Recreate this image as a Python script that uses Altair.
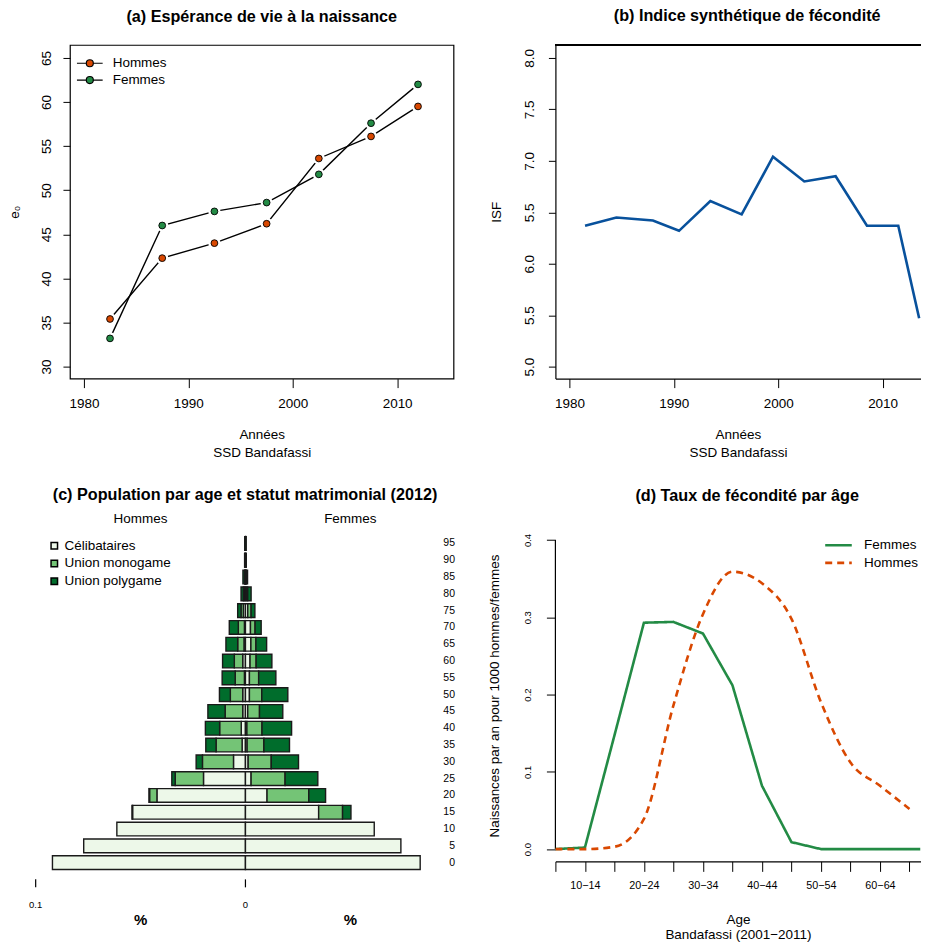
import json
import altair as alt
import pandas as pd

# ---------------- data ----------------
# (a) life expectancy at birth
e0_years = [1982.5, 1987.5, 1992.5, 1997.5, 2002.5, 2007.5, 2012.0]
e0_hommes = [35.4, 42.3, 44.0, 46.2, 53.6, 56.1, 59.5]
e0_femmes = [33.2, 46.0, 47.6, 48.6, 51.8, 57.6, 62.0]

# (b) total fertility rate
isf_years = [1981.5, 1984.5, 1988.0, 1990.5, 1993.5, 1996.5, 1999.5, 2002.5, 2005.5, 2008.5, 2011.5, 2013.5]
isf_values = [6.37, 6.45, 6.42, 6.32, 6.61, 6.48, 7.04, 6.80, 6.85, 6.37, 6.37, 5.47]
isf_ticks = [5.0, 5.5, 6.0, 6.5, 7.0, 7.5, 8.0]
isf_tick_labels = ["5.0", "5.5", "6.0", "5.5", "7.0", "7.5", "8.0"]

# (c) population pyramid 2012 (proportions)
ages = [0, 5, 10, 15, 20, 25, 30, 35, 40, 45, 50, 55, 60, 65, 70, 75, 80, 85, 90, 95]
statuts = ["Célibataires", "Union monogame", "Union polygame"]
men_celib = [0.0920, 0.0771, 0.0613, 0.0538, 0.0422, 0.0200, 0.0057, 0.0016, 0.0020, 0.0013,
             0.0013, 0.0005, 0.0013, 0.0007, 0.0005, 0.0010, 0.0005, 0.0002, 0.0002, 0.0001]
men_mono = [0.0, 0.0, 0.0, 0.0003, 0.0035, 0.0135, 0.0148, 0.0124, 0.0103, 0.0084,
            0.0059, 0.0044, 0.0040, 0.0030, 0.0029, 0.0011, 0.0005, 0.0002, 0.0001, 0.0001]
men_poly = [0.0, 0.0, 0.0, 0.0, 0.0003, 0.0016, 0.0030, 0.0049, 0.0068, 0.0082,
            0.0052, 0.0062, 0.0056, 0.0056, 0.0043, 0.0016, 0.0011, 0.0008, 0.0001, 0.0001]
women_celib = [0.0833, 0.0741, 0.0614, 0.0349, 0.0103, 0.0027, 0.0013, 0.0008, 0.0007, 0.0011,
               0.0019, 0.0019, 0.0022, 0.0026, 0.0024, 0.0011, 0.0005, 0.0002, 0.0002, 0.0001]
women_mono = [0.0, 0.0, 0.0, 0.0114, 0.0199, 0.0162, 0.0110, 0.0080, 0.0072, 0.0056,
              0.0059, 0.0044, 0.0029, 0.0024, 0.0022, 0.0016, 0.0006, 0.0002, 0.0001, 0.0001]
women_poly = [0.0, 0.0, 0.0, 0.0040, 0.0080, 0.0156, 0.0130, 0.0122, 0.0141, 0.0111,
              0.0124, 0.0082, 0.0075, 0.0051, 0.0029, 0.0018, 0.0016, 0.0006, 0.0001, 0.0001]
pyr_tick_values = [-0.1, 0.0]
pyr_tick_labels = ["0.1", "0"]

# (d) age-specific fertility
fert_groups = ["5\u22129", "10\u221214", "15\u221219", "20\u221224", "25\u221229", "30\u221234", "35\u221239",
               "40\u221244", "45\u221249", "50\u221254", "55\u221259", "60\u221264", "65\u221269", "70\u221274"]
fert_femmes = [0.000, 0.002, 0.147, 0.293, 0.294, 0.279, 0.212, 0.082, 0.009, 0.000, 0.000, 0.000, 0.000, 0.000]
fert_hommes = [0.000, 0.000, 0.003, 0.039, 0.186, 0.304, 0.359, 0.344, 0.298, 0.190, 0.112, 0.082, 0.052, 0.040]

# ---------------- styles ----------------
FONT = "Liberation Sans"
ORANGE = "#D94801"
GREEN = "#238B45"
BLUE = "#08519C"
GREENS = ["#EDF8E9", "#74C476", "#006D2C"]
FS = 13.5
TITLE_FS = 16.2

W = 384      # left column plot width
W2 = 365.5   # right column plot width (reaches the page edge)
H = 334


def title(text, offset, dx=0):
    return alt.TitleParams(text, fontSize=TITLE_FS, fontWeight="bold", font=FONT,
                           anchor="middle", offset=offset, dx=dx, color="black")


def yaxis_r(values, title_text, fmt=None, label_expr=None, fs=FS, tick=7, lp=12, tp=10,
            title_fs=FS, domain=False):
    kw = dict(values=values, title=title_text, domain=domain, domainColor="black", domainWidth=1.2,
              grid=False, tickSize=tick,
              tickColor="black", labelAngle=270, labelAlign="center", labelBaseline="alphabetic",
              labelPadding=lp, labelFontSize=fs, titleFontSize=title_fs, titleFontWeight="normal",
              titlePadding=tp, labelColor="black", titleColor="black")
    if fmt:
        kw["format"] = fmt
    if label_expr:
        kw["labelExpr"] = label_expr
    return alt.Axis(**kw)


def xaxis_r(values, title_lines, domain=False, tick=9, lp=9, tp=17.6, fs=FS, label_expr=None,
            fmt="d", lh=18):
    kw = dict(values=values, title=title_lines, domain=domain, domainColor="black", domainWidth=1.2,
              grid=False, tickSize=tick, tickColor="black", labelPadding=lp, labelFontSize=fs,
              titleFontSize=FS, titleFontWeight="normal", titlePadding=tp, titleLineHeight=lh,
              labelColor="black", titleColor="black", labelFlush=False, labelOverlap=False)
    if label_expr:
        kw["labelExpr"] = label_expr
    else:
        kw["format"] = fmt
    return alt.Axis(**kw)


# ---------------- panel (a) ----------------
a_df = pd.DataFrame({
    "annee": e0_years + e0_years,
    "e0": e0_hommes + e0_femmes,
    "sexe": ["Hommes"] * len(e0_years) + ["Femmes"] * len(e0_years),
})
xa = alt.X("annee:Q", scale=alt.Scale(domain=[1978.66, 2015.4], nice=False, zero=False),
           axis=xaxis_r([1980, 1990, 2000, 2010], ["Années", "SSD Bandafassi"]))
ya = alt.Y("e0:Q", scale=alt.Scale(domain=[28.64, 66.47], nice=False, zero=False),
           axis=yaxis_r([30, 35, 40, 45, 50, 55, 60, 65], "e\u2080", fmt="d", tp=18.3))
# line-with-point legend glyph (drawn larger than its layout box)
legend_path = ("M-1.98,0L-0.54,0M0.54,0L1.98,0M-0.54,0A0.54,0.54,0,1,0,0.54,0"
               "A0.54,0.54,0,1,0,-0.54,0Z")
a_base = alt.Chart(a_df)
a_lines = a_base.mark_line(color="black", strokeWidth=1.4).encode(x=xa, y=ya, detail="sexe:N")
a_halo = a_base.mark_circle(color="white", size=150, opacity=1).encode(x=xa, y=ya)
a_pts = a_base.mark_circle(size=46, stroke="black", strokeWidth=0.9, opacity=1).encode(
    x=xa, y=ya,
    fill=alt.Fill("sexe:N", scale=alt.Scale(domain=["Hommes", "Femmes"], range=[ORANGE, GREEN]),
                  legend=alt.Legend(title=None, orient="none", legendX=12.4, legendY=10.8,
                                    symbolType=legend_path, symbolSize=169,
                                    symbolStrokeColor="black", symbolStrokeWidth=1.2,
                                    labelFontSize=FS, labelOffset=15.4, rowPadding=2.8,
                                    padding=0, labelColor="black", labelFont=FONT)))
panel_a = alt.layer(a_lines, a_halo, a_pts).properties(
    width=W, height=H, title=title("(a) Espérance de vie à la naissance", 19.7),
    view=alt.ViewBackground(stroke="black", strokeWidth=1.2))

# ---------------- panel (b) ----------------
b_df = pd.DataFrame({"annee": isf_years, "isf": isf_values})
isf_expr = "{" + ",".join(f'"{v}":"{l}"' for v, l in zip(isf_ticks, isf_tick_labels)) + "}"
xb = alt.X("annee:Q", scale=alt.Scale(domain=[1978.66, 1978.66 + W2 / 10.452], nice=False, zero=False),
           axis=xaxis_r([1980, 1990, 2000, 2010], ["Années", "SSD Bandafassi"], domain=True))
yb = alt.Y("isf:Q", scale=alt.Scale(domain=[4.884, 8.126], nice=False, zero=False),
           axis=yaxis_r(isf_ticks, "ISF", domain=True, lp=14.5,
                        label_expr=f"{isf_expr}[format(datum.value, '.1f')]", tp=19.6))
b_line = alt.Chart(b_df).mark_line(color=BLUE, strokeWidth=2.6).encode(x=xb, y=yb)
b_top = alt.Chart(b_df).mark_rule(color="black", strokeWidth=1.2).encode(
    x=alt.value(0), x2=alt.value(W2), y=alt.value(0))
panel_b = alt.layer(b_top, b_line).properties(
    width=W2, height=H, title=title("(b) Indice synthétique de fécondité", 19.7, dx=(W - W2) / 2))

# ---------------- panel (c) ----------------
rows = []
for i, age in enumerate(ages):
    for sexe, vals, sign in (("Hommes", (men_celib, men_mono, men_poly), -1),
                             ("Femmes", (women_celib, women_mono, women_poly), 1)):
        cum = 0.0
        for st, arr in zip(statuts, vals):
            v = arr[i]
            if v > 0:
                rows.append({"age": age, "sexe": sexe, "statut": st,
                             "x0": sign * cum, "x1": sign * (cum + v)})
            cum += v
c_df = pd.DataFrame(rows)
HC = 342
xc_scale = alt.Scale(domain=[-0.083667, 0.099190], nice=False, zero=False)
yc = alt.Y("age:O", sort=sorted(ages, reverse=True),
           scale=alt.Scale(paddingInner=0.185, paddingOuter=0.259, align=0.787),
           axis=alt.Axis(orient="right", title=None, ticks=False, domain=False, labelAlign="right",
                         labelPadding=1, labelFontSize=10.5, labelColor="black", labelBaseline="middle"))
c_bars = alt.Chart(c_df).mark_bar(stroke="#1a1a1a", strokeWidth=1.4).encode(
    x=alt.X("x0:Q", scale=xc_scale, axis=None),
    x2="x1:Q",
    y=yc,
    fill=alt.Fill("statut:N", scale=alt.Scale(domain=statuts, range=GREENS),
                  legend=alt.Legend(title=None, orient="none", legendX=-22.4, legendY=9.2,
                                    symbolType="square", symbolSize=42, symbolStrokeColor="black",
                                    symbolStrokeWidth=1.5, labelFontSize=FS, labelOffset=3.4,
                                    rowPadding=2.8, padding=0, labelColor="black", labelFont=FONT)))
ticks_df = pd.DataFrame({"v": pyr_tick_values, "lab": pyr_tick_labels})
c_ticks = alt.Chart(ticks_df).mark_rule(color="black", strokeWidth=1.2).encode(
    x=alt.X("v:Q", scale=xc_scale, axis=None), y=alt.value(350), y2=alt.value(358))
c_ticklab = alt.Chart(ticks_df).mark_text(fontSize=9.5, font=FONT, color="black").encode(
    x=alt.X("v:Q", scale=xc_scale, axis=None), y=alt.value(376), text="lab:N")
side_df = pd.DataFrame({"v": [-0.05, 0.05], "sexe": ["Hommes", "Femmes"], "pct": ["%", "%"]})
c_sides = alt.Chart(side_df).mark_text(fontSize=FS, font=FONT, color="black").encode(
    x=alt.X("v:Q", scale=xc_scale, axis=None), y=alt.value(-10.9), text="sexe:N")
c_pct = alt.Chart(side_df).mark_text(fontSize=15, font=FONT, fontWeight="bold", color="black").encode(
    x=alt.X("v:Q", scale=xc_scale, axis=None), y=alt.value(391), text="pct:N")
panel_c = alt.layer(c_bars, c_ticks, c_ticklab, c_sides, c_pct).properties(
    width=W, height=HC,
    title=title("(c) Population par age et statut matrimonial (2012)", 8.4, dx=-16.7))

# ---------------- panel (d) ----------------
n = len(fert_groups)
d_df = pd.DataFrame({
    "idx": list(range(1, n + 1)) * 2,
    "taux": fert_femmes + fert_hommes,
    "sexe": ["Femmes"] * n + ["Hommes"] * n,
})
shown = [g if (i + 1) % 2 == 0 else "" for i, g in enumerate(fert_groups)]
lab_expr = json.dumps(shown, ensure_ascii=False) + "[datum.value - 1]"
HD = 332
x_max = 1 + W2 / 29.54
xd_scale = alt.Scale(domain=[1, x_max], nice=False, zero=False, clamp=True)
yd_scale = alt.Scale(domain=[-0.0159, 0.4133], nice=False, zero=False)
xd = alt.X("idx:Q", scale=xd_scale,
           axis=xaxis_r([i for i in range(1, n + 1) if i <= x_max], ["Age", "Bandafassi (2001\u22122011)"],
                        domain=True, tick=10, lp=8.4, tp=21.6, fs=10.8, label_expr=lab_expr, lh=15.3))
yd = alt.Y("taux:Q", scale=yd_scale,
           axis=yaxis_r([0.0, 0.1, 0.2, 0.3, 0.4], "Naissances par an pour 1000 hommes/femmes",
                        fmt=".1f", fs=9.5, tick=9, lp=15.7, tp=21, title_fs=FS))
col_scale = alt.Scale(domain=["Femmes", "Hommes"], range=[GREEN, ORANGE])
dash_scale = alt.Scale(domain=["Femmes", "Hommes"], range=[[1, 0], [7, 5]])
d_legend = alt.Legend(title=None, orient="none", legendX=275.4, legendY=7.6,
                      symbolType="M-2.046,0L2.046,0", symbolSize=169, symbolStrokeWidth=2.6,
                      labelFontSize=FS, labelOffset=17.6, rowPadding=2.6, padding=0,
                      labelColor="black", labelFont=FONT)
d_f = alt.Chart(d_df).transform_filter(alt.datum.sexe == "Femmes").mark_line(
    strokeWidth=2.6, clip=True).encode(
    x=xd, y=yd, color=alt.Color("sexe:N", scale=col_scale, legend=d_legend),
    strokeDash=alt.StrokeDash("sexe:N", scale=dash_scale, legend=d_legend))
d_h = alt.Chart(d_df).transform_filter(
    (alt.datum.sexe == "Hommes") & (alt.datum.idx <= x_max)).mark_line(
    strokeWidth=2.6, clip=True, interpolate="monotone").encode(
    x=xd, y=yd, color=alt.Color("sexe:N", scale=col_scale, legend=d_legend),
    strokeDash=alt.StrokeDash("sexe:N", scale=dash_scale, legend=d_legend))
yaxis_line = alt.Chart(pd.DataFrame({"y0": [0.0], "y1": [0.4]})).mark_rule(
    color="black", strokeWidth=1.2).encode(x=alt.value(0), y=alt.Y("y0:Q", scale=yd_scale), y2="y1:Q")
panel_d = alt.layer(yaxis_line, d_f, d_h).properties(
    width=W2, height=HD, title=title("(d) Taux de fécondité par âge", 25.5, dx=(W - W2) / 2))

chart = alt.concat(panel_a, panel_b, panel_c, panel_d, columns=2, bounds="flush", align="each",
                   spacing={"row": 151.3, "column": 102}).resolve_scale(
    fill="independent", color="independent", strokeDash="independent").resolve_legend(
    fill="independent", color="independent", strokeDash="independent").properties(
    padding={"top": -0.5, "left": -1, "right": 0, "bottom": 0}).configure(font=FONT).configure_view(
    strokeWidth=0).configure_axis(labelFont=FONT, titleFont=FONT)

chart.save("out.html", embed_options={"renderer": "svg", "actions": False})
